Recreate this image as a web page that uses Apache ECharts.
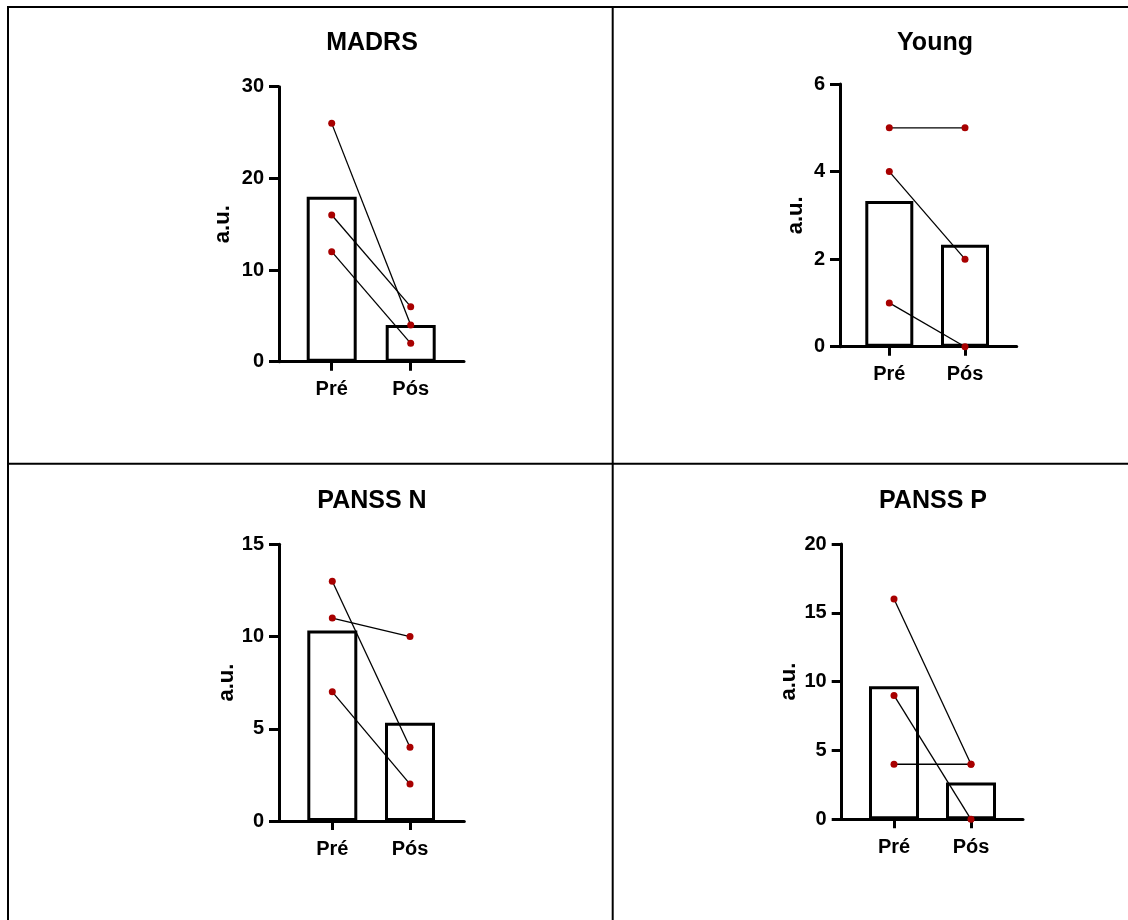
<!DOCTYPE html>
<html>
<head>
<meta charset="utf-8">
<script src="https://cdn.jsdelivr.net/npm/echarts@6/dist/echarts.min.js"></script>
<style>
html,body{margin:0;padding:0;background:#fff;}
#chart{width:1128px;height:920px;}
</style>
</head>
<body>
<div id="chart"></div>
<script>
// ---- data ----
const categories = ['Pré', 'Pós'];
const panelTitles = ['MADRS', 'Young', 'PANSS N', 'PANSS P'];

const madrsPre = [26, 16, 12];
const madrsPost = [4, 6, 2];
const madrsMean = [18, 4];
const madrsTicks = [0, 10, 20, 30];

const youngPre = [5, 4, 1];
const youngPost = [5, 2, 0];
const youngMean = [3.33, 2.33];
const youngTicks = [0, 2, 4, 6];

const panssNPre = [13, 11, 7];
const panssNPost = [4, 10, 2];
const panssNMean = [10.33, 5.33];
const panssNTicks = [0, 5, 10, 15];

const panssPPre = [16, 9, 4];
const panssPPost = [4, 0, 4];
const panssPMean = [9.67, 2.67];
const panssPTicks = [0, 5, 10, 15, 20];

// ---- layout (positions / styles) ----
const W = 1128, H = 920;
const FONT = '"Liberation Sans", Arial, sans-serif';
const RED = '#A80000';
const panels = [
  {pre: madrsPre, post: madrsPost, mean: madrsMean, ticks: madrsTicks,
   ax: 279, top: 86.7, bottom: 361.7, xEnd: 464, preX: 331.7, posX: 410.7, barW: 50, nameGap: 45, tx: 372, ty: 43},
  {pre: youngPre, post: youngPost, mean: youngMean, ticks: youngTicks,
   ax: 840, top: 84, bottom: 346.7, xEnd: 1016.7, preX: 889.3, posX: 965, barW: 48, nameGap: 33, tx: 935, ty: 43},
  {pre: panssNPre, post: panssNPost, mean: panssNMean, ticks: panssNTicks,
   ax: 279, top: 544.3, bottom: 821, xEnd: 464.3, preX: 332.3, posX: 410, barW: 50, nameGap: 40, tx: 372, ty: 501},
  {pre: panssPPre, post: panssPPost, mean: panssPMean, ticks: panssPTicks,
   ax: 841.7, top: 544, bottom: 819.3, xEnd: 1023, preX: 894, posX: 971, barW: 50, nameGap: 42, tx: 933, ty: 501}
];

const grid = [], xAxis = [], yAxis = [], series = [], graphic = [];

panels.forEach((p, i) => {
  const unit = p.posX - p.preX;
  grid.push({left: p.ax, width: p.xEnd - p.ax, top: p.top, height: p.bottom - p.top, containLabel: false});
  xAxis.push({
    type: 'value', gridIndex: i,
    min: -(p.preX - p.ax) / unit, max: (p.xEnd - p.preX) / unit,
    splitLine: {show: false},
    axisLine: {show: true, onZero: false, lineStyle: {color: '#000', width: 3}},
    axisTick: {show: true, customValues: [0, 1], length: 9, lineStyle: {color: '#000', width: 3}},
    axisLabel: {show: true, customValues: [0, 1], formatter: v => categories[Math.round(v)],
      margin: 18, color: '#000', fontFamily: FONT, fontWeight: 'bold', fontSize: 20}
  });
  const t = p.ticks;
  yAxis.push({
    type: 'value', gridIndex: i,
    min: t[0], max: t[t.length - 1], interval: t[1] - t[0],
    name: 'a.u.', nameLocation: 'middle', nameRotate: 90, nameGap: p.nameGap,
    nameTextStyle: {color: '#000', fontFamily: FONT, fontWeight: 'bold', fontSize: 22},
    splitLine: {show: false},
    axisLine: {show: true, onZero: false, lineStyle: {color: '#000', width: 3}},
    axisTick: {show: true, length: 10, lineStyle: {color: '#000', width: 3}},
    axisLabel: {margin: 15, color: '#000', fontFamily: FONT, fontWeight: 'bold', fontSize: 20}
  });
  series.push({
    type: 'bar', xAxisIndex: i, yAxisIndex: i, barWidth: p.barW,
    data: [[0, p.mean[0]], [1, p.mean[1]]],
    itemStyle: {color: '#fff', borderColor: '#000', borderWidth: 3},
    z: 2
  });
  p.pre.forEach((v, k) => {
    series.push({
      type: 'line', xAxisIndex: i, yAxisIndex: i,
      data: [[0, v], [1, p.post[k]]],
      symbol: 'circle', symbolSize: 7, showSymbol: true,
      lineStyle: {color: '#000', width: 1.3},
      itemStyle: {color: RED, borderWidth: 0},
      z: 4
    });
  });
  graphic.push({
    type: 'text', x: p.tx, y: p.ty,
    style: {text: panelTitles[i], font: 'bold 25px ' + FONT, fill: '#000',
      textAlign: 'center', textVerticalAlign: 'middle', align: 'center', verticalAlign: 'middle'}
  });
});

// table borders
const border = {stroke: '#000', lineWidth: 2};
graphic.push({type: 'line', shape: {x1: 7, y1: 7, x2: W, y2: 7}, style: border});
graphic.push({type: 'line', shape: {x1: 8, y1: 6, x2: 8, y2: H}, style: border});
graphic.push({type: 'line', shape: {x1: 612.7, y1: 6, x2: 612.7, y2: H}, style: border});
graphic.push({type: 'line', shape: {x1: 7, y1: 463.7, x2: W, y2: 463.7}, style: border});

const chart = echarts.init(document.getElementById('chart'), null, {renderer: 'canvas'});
chart.setOption({
  animation: false,
  backgroundColor: '#fff',
  grid, xAxis, yAxis, series, graphic,
  tooltip: {show: false}
});
</script>
</body>
</html>
